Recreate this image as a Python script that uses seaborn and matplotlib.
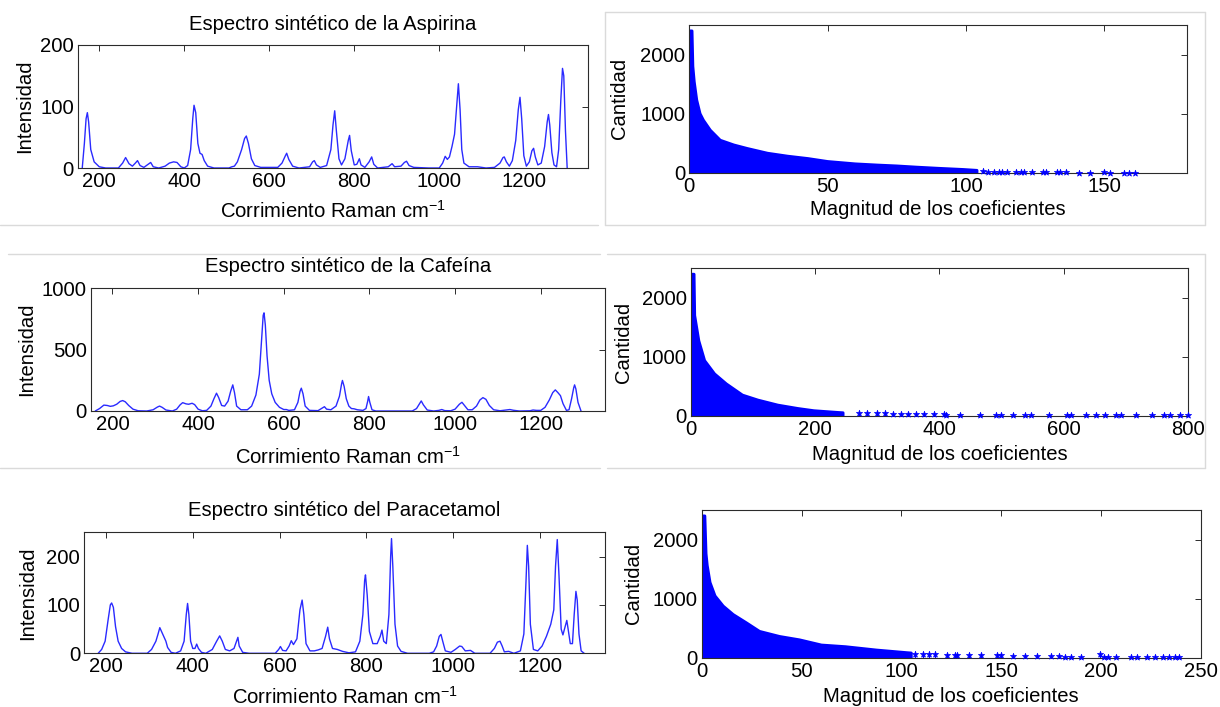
import numpy as np
import pandas as pd
import matplotlib
matplotlib.use("Agg")
import matplotlib.pyplot as plt
from matplotlib.lines import Line2D
import seaborn as sns

# ---------------- data ----------------
titles = ["Espectro sintético de la Aspirina",
          "Espectro sintético de la Cafeína",
          "Espectro sintético del Paracetamol"]

asp_x = [160, 165, 169, 172, 175, 180, 188, 200, 215, 245, 255, 262, 270, 278, 285, 290, 296, 305,
         315, 321, 327, 340, 355, 365, 375, 383, 392, 400, 408, 415, 420, 423, 427, 432, 437, 442,
         447, 455, 470, 505, 512, 518, 525, 535, 542, 546, 551, 558, 566, 580, 620, 630, 638, 641,
         646, 655, 670, 695, 702, 706, 711, 720, 735, 745, 750, 754, 758, 764, 770, 778, 786, 789,
         793, 800, 806, 812, 816, 825, 835, 841, 846, 855, 880, 889, 895, 910, 918, 923, 929, 940,
         975, 1000, 1008, 1014, 1019, 1024, 1030, 1036, 1041, 1045, 1049, 1053, 1058, 1070, 1090,
         1110, 1130, 1143, 1150, 1153, 1158, 1165, 1172, 1180, 1186, 1190, 1194, 1199, 1205, 1212,
         1218, 1222, 1226, 1232, 1240, 1248, 1254, 1257, 1260, 1265, 1270, 1276, 1281, 1286, 1290,
         1293, 1297, 1301]
asp_y = [0, 40, 80, 90, 75, 30, 10, 2, 0, 0, 8, 17, 7, 3, 8, 12, 4, 1,
         6, 9, 2, 0, 3, 8, 10, 9, 2, 0, 4, 30, 80, 102, 90, 40, 24, 22,
         12, 3, 0, 0, 2, 3, 10, 30, 48, 52, 40, 15, 4, 1, 1, 8, 20, 24,
         14, 3, 0, 2, 10, 12, 5, 1, 4, 30, 70, 93, 60, 15, 5, 15, 45, 53,
         28, 5, 6, 15, 5, 1, 10, 18, 6, 0, 2, 7, 2, 3, 9, 11, 4, 1,
         0, 0, 8, 19, 14, 18, 35, 55, 100, 137, 95, 30, 8, 2, 2,
         0, 1, 8, 17, 18, 10, 3, 12, 45, 95, 115, 80, 20, 3, 10,
         28, 32, 18, 5, 8, 35, 75, 87, 70, 25, 5, 2, 30, 110, 162,
         150, 60, 0]

caf_x = [160, 170, 180, 188, 195, 202, 210, 218, 224, 230, 238, 248, 260, 280, 295, 305, 310, 316,
         325, 340, 350, 358, 364, 372, 378, 386, 392, 400, 410, 420, 430, 437, 443, 448, 455, 462,
         470, 476, 481, 485, 490, 500, 515, 525, 535, 543, 548, 552, 554, 557, 561, 566, 572, 580,
         590, 600, 606, 612, 625, 633, 638, 641, 645, 650, 660, 680, 690, 695, 700, 710, 722, 730,
         735, 737, 741, 746, 752, 758, 764, 772, 785, 792, 796, 798, 801, 806, 815, 900, 910, 917,
         921, 926, 935, 950, 962, 969, 976, 990, 1000, 1010, 1016, 1022, 1030, 1040, 1050, 1058,
         1065, 1072, 1080, 1090, 1105, 1120, 1128, 1136, 1150, 1175, 1182, 1190, 1200, 1210, 1220,
         1228, 1234, 1240, 1246, 1252, 1260, 1266, 1272, 1277, 1279, 1282, 1287, 1294]
caf_y = [0, 20, 48, 45, 38, 42, 55, 78, 85, 75, 45, 15, 2, 0, 10, 32, 40, 30,
         8, 0, 15, 50, 68, 58, 55, 63, 52, 15, 2, 5, 40, 100, 145, 110, 45, 40,
         80, 160, 213, 150, 40, 10, 10, 40, 130, 300, 560, 780, 800, 700, 450, 250, 140, 70,
         30, 12, 12, 5, 10, 70, 160, 186, 140, 40, 5, 3, 25, 35, 15, 10, 40, 120,
         220, 249, 200, 100, 40, 20, 18, 10, 5, 20, 80, 118, 70, 10, 0, 0, 20, 60,
         82, 50, 8, 0, 5, 12, 3, 2, 15, 55, 71, 45, 10, 10, 40, 90,
         109, 95, 45, 10, 2, 8, 12, 6, 0, 2, 8, 5, 5, 30, 90,
         150, 172, 150, 125, 60, 5, 10, 100, 190, 213, 180, 70, 0]

par_x = [182, 190, 198, 205, 210, 213, 217, 222, 228, 236, 245, 260, 295, 305, 315, 320, 324, 328,
         333, 338, 342, 350, 360, 372, 380, 385, 388, 391, 395, 400, 405, 409, 413, 420, 430, 445,
         455, 462, 468, 475, 485, 495, 501, 504, 507, 515, 530, 590, 598, 602, 607, 615, 622, 627,
         632, 640, 647, 652, 656, 661, 670, 680, 689, 698, 706, 711, 715, 722, 733, 745, 760, 775,
         785, 792, 796, 798, 802, 807, 815, 825, 832, 836, 840, 846, 852, 856, 858, 861, 866, 872,
         880, 895, 945, 955, 962, 968, 972, 976, 982, 995, 1005, 1015, 1020, 1028, 1040, 1050,
         1085, 1095, 1102, 1108, 1113, 1118, 1128, 1140, 1155, 1163, 1168, 1171, 1174, 1178, 1185,
         1195, 1205, 1215, 1225, 1232, 1236, 1240, 1244, 1249, 1253, 1258, 1262, 1265, 1270, 1275,
         1279, 1283, 1286, 1290, 1295, 1302]
par_y = [0, 8, 25, 70, 100, 104, 95, 55, 25, 10, 3, 0, 0, 8, 25, 40, 53, 45,
         35, 25, 12, 2, 0, 5, 25, 80, 103, 80, 25, 10, 10, 19, 10, 2, 0, 8,
         25, 36, 25, 8, 5, 10, 25, 33, 15, 2, 0, 0, 8, 14, 6, 5, 15, 26,
         18, 30, 90, 110, 80, 20, 5, 5, 7, 10, 35, 54, 30, 10, 8, 4, 1, 3,
         25, 80, 150, 162, 120, 45, 20, 20, 35, 48, 25, 20, 80, 200, 237, 180, 60, 15,
         4, 0, 0, 3, 15, 35, 39, 25, 5, 2, 8, 15, 14, 5, 6, 0,
         0, 10, 23, 25, 15, 3, 4, 0, 5, 40, 150, 223, 180, 60, 8,
         5, 15, 35, 60, 90, 180, 235, 160, 50, 38, 55, 68, 50, 20, 20,
         80, 128, 110, 40, 5, 0]

spec_x = [asp_x, caf_x, par_x]
spec_y = [asp_y, caf_y, par_y]
spec_ylim = [200, 1000, 250]
spec_yticks = [[0, 100, 200], [0, 500, 1000], [0, 100, 200]]
spec_xticks = [200, 400, 600, 800, 1000, 1200]

# coefficient magnitude histograms (dense envelope + sparse tail stems)
env1_x = [0, 0, 1.0, 1.3, 1.8, 2.7, 3.9, 5.1, 7.6, 11.2, 16.1, 21, 28.3, 35.6, 42.9, 50, 60, 68, 75, 82, 90, 99, 104, 104]
env1_y = [0, 2400, 2400, 1800, 1540, 1230, 1000, 890, 720, 550, 470, 410, 330, 280, 240, 190, 150, 130, 115, 95, 75, 55, 40, 0]
tail1_x = [106, 108, 110, 112, 113, 115, 118, 120, 121, 124, 128, 129, 133, 134, 136, 141, 145, 150, 152, 157, 159, 161]
tail1_y = [25, 18, 15, 15, 12, 10, 12, 8, 10, 8, 5, 5, 4, 4, 4, 3, 3, 8, 3, 3, 2, 2]

env2_x = [0, 0, 5, 6, 12.7, 22, 38, 57, 83, 108, 140, 172, 198, 236, 245, 245]
env2_y = [0, 2400, 2400, 1700, 1270, 935, 710, 540, 350, 265, 180, 123, 85, 56, 50, 0]
tail2_x = [271, 284, 300, 312, 325, 338, 350, 363, 376, 392, 408, 411, 434, 465, 491, 500, 519, 538,
           548, 577, 605, 612, 637, 653, 666, 685, 692, 717, 742, 762, 771, 787, 800]
tail2_y = [45, 42, 40, 38, 36, 34, 32, 30, 28, 25, 22, 20, 18, 16, 15, 14, 14, 13,
           12, 12, 11, 10, 10, 9, 9, 8, 8, 8, 7, 7, 6, 6, 6]

env3_x = [0, 0, 1.6, 2.2, 2.8, 4.2, 6.7, 10.8, 15.8, 22.5, 29, 39, 49, 60, 72, 87.6, 103, 105, 105]
env3_y = [0, 2400, 2400, 1760, 1560, 1274, 1046, 874, 731, 589, 446, 360, 303, 215, 187, 130, 85, 80, 0]
tail3_x = [107, 111, 114, 117, 123, 127, 128, 134, 140, 148, 150, 156, 162, 168, 175, 179, 182, 185,
           190, 199.5, 201.5, 203.5, 207.4, 215, 218, 223, 227, 231, 234, 237, 239]
tail3_y = [62, 60, 58, 55, 50, 48, 45, 45, 42, 40, 38, 35, 30, 28, 25, 22, 20, 20,
           18, 60, 15, 15, 12, 12, 10, 10, 9, 8, 8, 7, 6]

env_x = [env1_x, env2_x, env3_x]
env_y = [env1_y, env2_y, env3_y]
tail_x = [tail1_x, tail2_x, tail3_x]
tail_y = [tail1_y, tail2_y, tail3_y]
hist_xlim = [180, 800, 250]
hist_xticks = [[0, 50, 100, 150], [0, 200, 400, 600, 800], [0, 50, 100, 150, 200, 250]]
hist_yticks = [0, 1000, 2000]

# ---------------- style ----------------
sns.set_theme(style="white")
plt.rcParams['font.family'] = ['Liberation Sans', 'DejaVu Sans']
plt.rcParams['mathtext.fontset'] = 'custom'
plt.rcParams['mathtext.rm'] = 'Liberation Sans'
plt.rcParams['mathtext.it'] = 'Liberation Sans:italic'
plt.rcParams['mathtext.default'] = 'regular'

W, H = 1220, 707
FS = 14.6
SPINE = '#2b2b2b'
fig = plt.figure(figsize=(W / 100, H / 100), dpi=100)
fig.patch.set_facecolor('white')


def box(l, t, r, b):
    return [l / W, 1 - b / H, (r - l) / W, (b - t) / H]


def style_axes(ax):
    for s in ax.spines.values():
        s.set_visible(True)
        s.set_color(SPINE)
        s.set_linewidth(0.8)
    ax.tick_params(direction='in', top=True, right=True, length=4, width=0.7,
                   color=SPINE, labelsize=FS, labelcolor='black', pad=3)
    ax.grid(False)
    ax.set_facecolor('white')


def place_labels(ax, rect_px, title_y, xlab_y, ylab_x, title, xlab, ylab):
    l, t, r, b = rect_px
    if title:
        ax.set_title(title, fontsize=FS, y=(b - title_y) / (b - t), va='center',
                     color='black', pad=0)
    ax.set_xlabel(xlab, fontsize=FS, va='center', color='black')
    ax.xaxis.set_label_coords(0.5, (b - xlab_y) / (b - t))
    ax.set_ylabel(ylab, fontsize=FS, va='center', color='black')
    ax.yaxis.set_label_coords((ylab_x - l) / (r - l), 0.5)


left_rects = [(78, 45, 588, 168), (91, 288.3, 605, 411), (84.3, 532.3, 605, 653.3)]
left_title_y = [25, 266.7, 510.7]
left_xlab_y = [210.7, 456.7, 696.7]
left_ylab_x = [25, 27, 28]

right_rects = [(689.3, 25, 1187.3, 172.7), (691, 268.3, 1187.7, 415.7), (701.7, 510, 1200.8, 657.7)]
right_xlab_y = [210, 455, 696.7]
right_ylab_x = [620, 623.7, 633]

# decorative light-grey panel frames
grey = '#dadada'
frame_lines = [
    ((0, 598), (225, 225)),
    ((605, 1205), (11.7, 11.7)), ((605, 1205), (225, 225)),
    ((605, 605), (11.7, 225)), ((1205, 1205), (11.7, 225)),
    ((8, 600), (254, 254)), ((0, 600), (468, 468)),
    ((607, 1205), (254, 254)), ((607, 1205), (468, 468)), ((1205, 1205), (254, 468)),
]
for (xs, ys) in frame_lines:
    fig.add_artist(Line2D([x / W for x in xs], [1 - y / H for y in ys],
                          transform=fig.transFigure, color=grey, lw=1.0, zorder=0))

for i in range(3):
    # spectrum
    ax = fig.add_axes(box(*left_rects[i]))
    df = pd.DataFrame({'x': spec_x[i], 'y': spec_y[i]})
    sns.lineplot(data=df, x='x', y='y', ax=ax, color='#2a2aff', lw=1.0,
                 estimator=None, sort=False)
    ax.set_xlim(150, 1350)
    ax.set_ylim(0, spec_ylim[i])
    ax.set_xticks(spec_xticks)
    ax.set_yticks(spec_yticks[i])
    style_axes(ax)
    place_labels(ax, left_rects[i], left_title_y[i], left_xlab_y[i], left_ylab_x[i],
                 titles[i], 'Corrimiento Raman cm$^{-1}$', 'Intensidad')

    # coefficient histogram (stem style)
    ax2 = fig.add_axes(box(*right_rects[i]))
    ax2.fill_between(env_x[i], 0, env_y[i], color='#0000ff', lw=0)
    ax2.plot(env_x[i], env_y[i], color='#0000ff', lw=2.0)
    ax2.vlines(tail_x[i], 0, tail_y[i], color='#0000ff', lw=1.0)
    sns.scatterplot(x=tail_x[i], y=tail_y[i], ax=ax2, marker='*', s=22,
                    color='#0000ff', edgecolor='#0000ff', linewidth=0.5, zorder=3, clip_on=False)
    ax2.set_xlim(0, hist_xlim[i])
    ax2.set_ylim(0, 2500)
    ax2.set_xticks(hist_xticks[i])
    ax2.set_yticks(hist_yticks)
    style_axes(ax2)
    place_labels(ax2, right_rects[i], None, right_xlab_y[i], right_ylab_x[i],
                 None, 'Magnitud de los coeficientes', 'Cantidad')

fig.savefig('out.png', dpi=100, facecolor='white')
